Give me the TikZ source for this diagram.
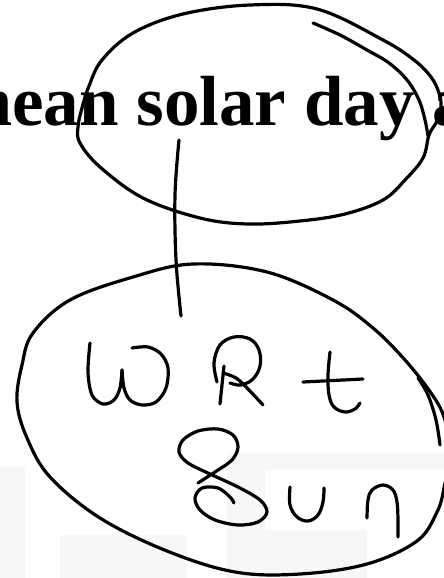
\documentclass[tikz,border=0pt]{standalone}
\usepackage{fontspec}
\setmainfont{Liberation Serif}
\begin{document}
\tikzset{
  ink/.style={line width=3.2pt, line cap=round, line join=round},
  wm/.style={fill=black!3},
  titletext/.style={anchor=base west, inner sep=0pt, font=\fontsize{71}{71}\selectfont\bfseries}
}
\begin{tikzpicture}[x=1pt,y=-1pt]
\useasboundingbox (0,0) rectangle (444,578);
\clip (0,0) rectangle (444,578);
% faint watermark
\fill[wm] (0,467) rectangle (25,578);
\fill[wm] (60,535) rectangle (187,578);
\fill[wm] (227,453) rectangle (444,470);
\fill[wm] (227,470) rectangle (265,578);
\fill[wm] (265,530) rectangle (367,578);
% title
\node[titletext] (title) at (-47,125) {mean solar day a};
% top ellipse
\draw[ink] plot[smooth cycle, tension=0.6] coordinates {
 (250,5) (317,9) (383,40) (414,60) (431,77) (439,93) (441,107) (437,121) (429,135)
 (423,158) (405,180) (383,200) (345,214) (300,221) (248,224) (200,218) (143,198)
 (100,167) (80,143) (78,127) (82,108) (89,86) (102,60) (133,33) (183,14)};
\draw[ink] plot[smooth, tension=0.6] coordinates {
 (313,23) (340,35) (367,50) (389,63) (407,80) (419,100) (425,120) (428,136)};
% connector line
\draw[ink] plot[smooth, tension=0.6] coordinates {(179,140) (175,195) (176,260) (181,316)};
% bottom ellipse
\draw[ink] plot[smooth cycle, tension=0.6] coordinates {
 (193,264) (267,272) (333,300) (373,328) (405,360) (431,393) (444,417) (450,450)
 (444,488) (437,512) (417,541) (367,564) (300,574) (235,572) (167,551) (100,518)
 (50,477) (27,438) (17,402) (22,365) (33,333) (70,300) (133,277)};
\draw[ink] plot[smooth, tension=0.6] coordinates {(418,378) (428,395) (436,420) (440,445)};
% W
\draw[ink] plot[smooth, tension=0.55] coordinates {
 (90,343) (88,372) (92,395) (103,404) (114,400) (120,388) (122,370)};
\draw[ink] plot[smooth, tension=0.55] coordinates {
 (122,370) (124,388) (130,400) (142,405) (156,402) (166,388) (168,368) (161,354) (148,347) (132,348)};
% R
\draw[ink] plot[smooth, tension=0.6] coordinates {(224,366) (222,385) (220,404)};
\draw[ink] plot[smooth, tension=0.6] coordinates {
 (217,382) (214,363) (220,345) (234,337) (250,339) (259,350) (260,366) (253,379) (241,385) (230,383)};
\draw[ink] plot[smooth, tension=0.6] coordinates {(223,373) (236,378) (248,389) (263,405)};
% t
\draw[ink] (303,382) -- (363,379);
\draw[ink] plot[smooth, tension=0.6] coordinates {(330,352) (328,375) (329,395) (334,407) (345,412) (355,409) (360,403)};
% S
\draw[ink] plot[smooth, tension=0.55] coordinates {
 (198,483) (215,472) (232,460) (238,447) (233,435) (218,429) (198,431) (183,440)
 (179,452) (188,463) (210,474) (238,487) (260,500) (267,512) (258,522) (238,525)
 (215,520) (200,510) (195,498) (202,488) (218,488) (230,497) (234,503)};
% u
\draw[ink] plot[smooth, tension=0.6] coordinates {
 (290,487) (290,505) (297,517) (308,521) (318,515) (323,502) (324,488)};
% n
\draw[ink] plot[smooth, tension=0.6] coordinates {
 (367,518) (368,500) (372,490) (383,485) (393,490) (397,502) (398,520) (398,537)};
\end{tikzpicture}
\end{document}
